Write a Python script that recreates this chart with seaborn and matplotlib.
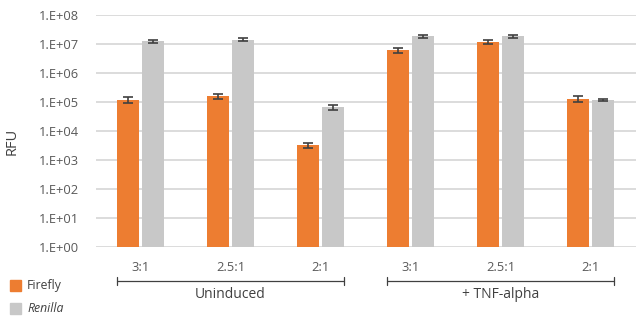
import numpy as np
import pandas as pd
import matplotlib
matplotlib.use("Agg")
import matplotlib.pyplot as plt
import seaborn as sns
from matplotlib.patches import Rectangle

ratios = ["3:1", "2.5:1", "2:1", "3:1", "2.5:1", "2:1"]
groups = ["Uninduced", "+ TNF-alpha"]
firefly = [1.2e5, 1.6e5, 3.3e3, 6.0e6, 1.17e7, 1.27e5]
renilla = [1.27e7, 1.42e7, 6.6e4, 1.85e7, 1.85e7, 1.2e5]
firefly_err = [2.5e4, 3.5e4, 7e2, 1.0e6, 2.0e6, 2.8e4]
renilla_err = [1.5e6, 2.0e6, 1.2e4, 2.5e6, 2.5e6, 8e3]
series = ["Firefly", "Renilla"]
yticks = [1e0, 1e1, 1e2, 1e3, 1e4, 1e5, 1e6, 1e7, 1e8]
ytick_labels = ["1.E+00", "1.E+01", "1.E+02", "1.E+03", "1.E+04", "1.E+05", "1.E+06", "1.E+07", "1.E+08"]

cats = [f"{r}#{i}" for i, r in enumerate(ratios)]
df = pd.DataFrame({
    "cat": cats * 2,
    "series": ["Firefly"] * 6 + ["Renilla"] * 6,
    "value": firefly + renilla,
})

sns.set_theme(style="white")
plt.rcParams["font.family"] = ["Open Sans", "DejaVu Sans"]
text_col = "#595959"
colors = {"Firefly": "#ED7D31", "Renilla": "#C8C8C8"}

fig = plt.figure(figsize=(6.41, 3.21), dpi=100)
ax = fig.add_axes([95.5 / 641, 1 - 247 / 321, 540 / 641, 232 / 321])
ax.set_yscale("log")
sns.barplot(data=df, x="cat", y="value", hue="series", order=cats, hue_order=series,
            palette=colors, saturation=1, width=0.55, gap=0.1, errorbar=None, ax=ax,
            legend=False, linewidth=0, zorder=3)

# error bars at bar centres
for cont, errs, vals in zip(ax.containers, [firefly_err, renilla_err], [firefly, renilla]):
    xs = [p.get_x() + p.get_width() / 2 for p in cont.patches]
    ax.errorbar(xs, vals, yerr=errs, fmt="none", ecolor="#404040", elinewidth=1.2,
                capsize=3.5, capthick=1.2, zorder=4)

ax.set_ylim(1, 1e8)
ax.set_xlim(-0.5, 5.5)
ax.set_yticks(yticks)
ax.set_yticklabels(ytick_labels)
ax.yaxis.set_minor_locator(matplotlib.ticker.NullLocator())
ax.set_xticks(range(6))
ax.set_xticklabels(ratios)
ax.tick_params(axis="both", colors=text_col, labelsize=9.3, length=0)
ax.tick_params(axis="x", pad=10)
ax.tick_params(axis="y", pad=12)
ax.grid(axis="y", color="#D9D9D9", linewidth=1.3, zorder=0)
ax.set_axisbelow(True)
for s in ax.spines.values():
    s.set_visible(False)
ax.set_xlabel("")
ax.set_ylabel("")
fig.text(12 / 641, 1 - 141 / 321, "RFU", rotation=90, ha="center", va="center",
         color="#404040", fontsize=10.5)

# group brackets
trans = matplotlib.transforms.blended_transform_factory(ax.transData, fig.transFigure)
line_y = 1 - 281 / 321
for gi, g in enumerate(groups):
    x0 = gi * 3 - 0.26
    x1 = gi * 3 + 2 + 0.26
    ax.plot([x0, x1], [line_y, line_y], color="#404040", lw=0.9, transform=trans, clip_on=False)
    for xx in (x0, x1):
        ax.plot([xx, xx], [line_y - 0.012, line_y + 0.012], color="#404040", lw=0.9,
                transform=trans, clip_on=False)
    ax.text((x0 + x1) / 2, 1 - 295 / 321, g, transform=trans, ha="center", va="center",
            color="#404040", fontsize=10)

# legend
for i, s in enumerate(series):
    yc = 1 - (285 + 23 * i) / 321
    fig.patches.append(Rectangle((10 / 641, yc - 5.5 / 321), 11 / 641, 11 / 321,
                                 transform=fig.transFigure, color=colors[s]))
    fig.text(27 / 641, yc, s, va="center", ha="left", color="#404040", fontsize=8.8,
             style="italic" if s == "Renilla" else "normal")

fig.savefig("out.png", dpi=100)
